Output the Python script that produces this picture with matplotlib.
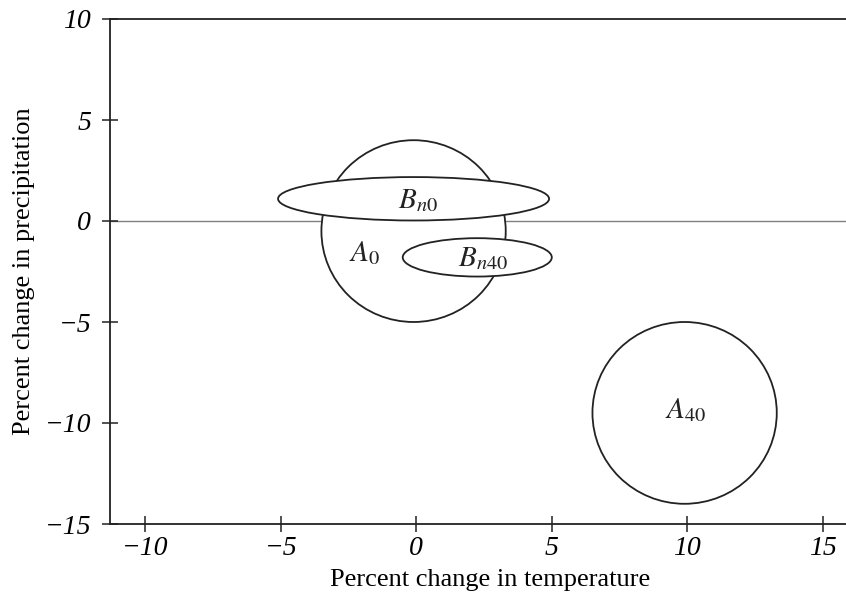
import matplotlib
matplotlib.use('Agg')
import matplotlib.pyplot as plt
from matplotlib.patches import Ellipse

plt.rcParams['font.family'] = ['Liberation Serif', 'DejaVu Serif']
plt.rcParams['mathtext.fontset'] = 'stix'

# regions in (temperature, precipitation) percent-change space
names = ['$A_0$', '$A_{40}$', '$B_{n0}$', '$B_{n40}$']
center_x = [-0.1, 9.9, -0.1, 2.25]
center_y = [-0.5, -9.5, 1.1, -1.8]
width = [6.8, 6.8, 10.0, 5.5]
height = [9.0, 9.0, 2.15, 1.9]
label_x = [-1.9, 9.95, 0.05, 2.45]
label_y = [-1.6, -9.35, 1.0, -1.85]

x_ticks = [-10, -5, 0, 5, 10, 15]
y_ticks = [-15, -10, -5, 0, 5, 10]

fig = plt.figure(figsize=(8.46, 5.98), dpi=100)
# axes runs past the right edge of the picture, like the cropped scan
ax = fig.add_axes([110 / 846, 1 - 524 / 598, 760 / 846, 505 / 598])
ax.set_xlim(-11.3, 16.74)
ax.set_ylim(-15, 10)

ax.axhline(0, color='#808080', lw=1.0, zorder=1)

for i in range(len(names)):
    e = Ellipse((center_x[i], center_y[i]), width[i], height[i],
                facecolor='white', edgecolor='#222222', lw=1.3, zorder=2 + i)
    ax.add_patch(e)
    ax.text(label_x[i], label_y[i], names[i], fontsize=21, ha='center', va='center',
            zorder=10, color='#222222')

ax.set_xticks(x_ticks)
ax.set_yticks(y_ticks)
ax.set_xticklabels([('\u2212' if t < 0 else '') + str(abs(t)) for t in x_ticks],
                   style='italic', fontsize=20)
ax.set_yticklabels([('\u2212' if t < 0 else '') + str(abs(t)) for t in y_ticks],
                   style='italic', fontsize=20)
ax.tick_params(axis='both', direction='inout', length=11, width=1.1, color='#222222')
ax.tick_params(axis='x', pad=3)
ax.tick_params(axis='y', pad=8)

for s in ['left', 'bottom', 'top']:
    ax.spines[s].set_linewidth(1.3)
    ax.spines[s].set_color('#222222')
ax.spines['right'].set_visible(False)

ax.set_xlabel('Percent change in temperature', fontsize=19, labelpad=6)
ax.set_ylabel('Percent change in precipitation', fontsize=19, labelpad=7)

fig.savefig('out.png', dpi=100)
